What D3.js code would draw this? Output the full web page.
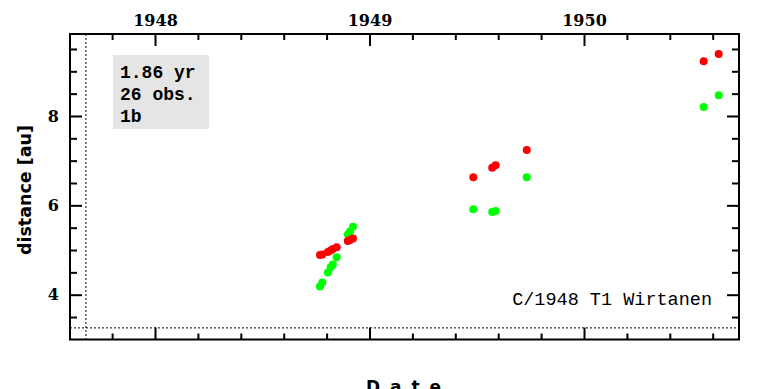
<!DOCTYPE html>
<html>
<head>
<meta charset="utf-8">
<script src="https://cdn.jsdelivr.net/npm/d3@7"></script>
<style>
  body { margin: 0; background: #fff; }
  .tick text { font-family: "DejaVu Serif", serif; font-weight: bold; font-size: 16px; fill: #000; }
  .tick line { stroke: #000; stroke-width: 2px; }
</style>
</head>
<body>
<div id="chart"></div>
<script>
// observation epochs (decimal year) and distances in au
const obsDates  = [1948.769, 1948.780, 1948.806, 1948.819, 1948.829, 1948.847, 1948.899, 1948.909, 1948.923,
                   1949.484, 1949.572, 1949.588, 1949.733, 1950.558, 1950.628];
const helioDist = [4.890, 4.900, 4.957, 4.987, 5.025, 5.063, 5.204, 5.226, 5.255,
                   6.629, 6.843, 6.897, 7.239, 9.224, 9.387];
const geoDist   = [4.181, 4.271, 4.494, 4.615, 4.673, 4.839, 5.345, 5.412, 5.523,
                   5.913, 5.852, 5.875, 6.629, 8.201, 8.463];

const yearTicks = [1948, 1949, 1950];
const yearMinor = [1947.8, 1948.2, 1948.4, 1948.6, 1948.8, 1949.2, 1949.4, 1949.6, 1949.8, 1950.2, 1950.4, 1950.6];
const distTicks = [4, 6, 8];
const distMinor = [3.5, 4.5, 5, 5.5, 6.5, 7, 7.5, 8.5, 9, 9.5];

const infoLines = ["1.86 yr", "26 obs.", "1b"];
const cometName = "C/1948 T1 Wirtanen";
const refDate = 1947.678;   // dotted vertical
const refDist = 3.257;      // dotted horizontal

const width = 764, height = 389;
const margin = { left: 70, right: 25, top: 34, bottom: 49.5 };

const svg = d3.select('#chart').append('svg')
    .attr('width', width)
    .attr('height', height);

const x = d3.scaleLinear()
    .domain([1947.6037, 1950.7226])
    .range([margin.left, width - margin.right]);

const y = d3.scaleLinear()
    .domain([2.997, 9.835])
    .range([height - margin.bottom, margin.top]);

const x0 = x.range()[0], x1 = x.range()[1];
const y0 = y.range()[0], y1 = y.range()[1];

// info box
svg.append('rect')
    .attr('x', 113).attr('y', 55)
    .attr('width', 96).attr('height', 74)
    .attr('fill', '#e5e5e5');

svg.selectAll('.info')
    .data(infoLines)
    .join('text')
    .attr('class', 'info')
    .attr('x', 120)
    .attr('y', (d, i) => 78 + i * 22)
    .style('font-family', '"Liberation Mono", monospace')
    .style('font-weight', 'bold')
    .style('font-size', '18px')
    .text(d => d);

// dotted reference lines
svg.append('line')
    .attr('x1', x(refDate)).attr('x2', x(refDate))
    .attr('y1', y1).attr('y2', y0)
    .attr('stroke', '#000').attr('stroke-width', 1)
    .attr('stroke-dasharray', '2,2');

svg.append('line')
    .attr('x1', x0).attr('x2', x1)
    .attr('y1', y(refDist)).attr('y2', y(refDist))
    .attr('stroke', '#000').attr('stroke-width', 1)
    .attr('stroke-dasharray', '2,2');

// points: geocentric (green) under heliocentric (red)
svg.selectAll('.geo')
    .data(obsDates)
    .join('circle')
    .attr('class', 'geo')
    .attr('cx', d => x(d))
    .attr('cy', (d, i) => y(geoDist[i]))
    .attr('r', 4)
    .attr('fill', '#00ff00');

svg.selectAll('.helio')
    .data(obsDates)
    .join('circle')
    .attr('class', 'helio')
    .attr('cx', d => x(d))
    .attr('cy', (d, i) => y(helioDist[i]))
    .attr('r', 4)
    .attr('fill', '#ff0000');

// axes
function addAxis(axis, tx, ty) {
    const g = svg.append('g')
        .attr('transform', `translate(${tx},${ty})`)
        .call(axis);
    g.select('.domain').remove();
    return g;
}

addAxis(d3.axisTop(x).tickValues(yearTicks).tickSize(-12).tickPadding(8).tickFormat(d3.format('d')), 0, y1);
addAxis(d3.axisTop(x).tickValues(yearMinor).tickSize(-6).tickFormat(''), 0, y1);
addAxis(d3.axisBottom(x).tickValues(yearTicks).tickSize(-12).tickFormat(''), 0, y0);
addAxis(d3.axisBottom(x).tickValues(yearMinor).tickSize(-6).tickFormat(''), 0, y0);

addAxis(d3.axisLeft(y).tickValues(distTicks).tickSize(-12).tickPadding(11).tickFormat(d3.format('d')), x0, 0);
addAxis(d3.axisLeft(y).tickValues(distMinor).tickSize(-7).tickFormat(''), x0, 0);
addAxis(d3.axisRight(y).tickValues(distTicks).tickSize(-12).tickFormat(''), x1, 0);
addAxis(d3.axisRight(y).tickValues(distMinor).tickSize(-7).tickFormat(''), x1, 0);

// frame
svg.append('rect')
    .attr('x', x0).attr('y', y1)
    .attr('width', x1 - x0).attr('height', y0 - y1)
    .attr('fill', 'none')
    .attr('stroke', '#000')
    .attr('stroke-width', 2);

// labels
svg.append('text')
    .attr('x', x1 - 27)
    .attr('y', 305)
    .attr('text-anchor', 'end')
    .style('font-family', '"Liberation Mono", monospace')
    .style('font-size', '18.5px')
    .text(cometName);

svg.append('text')
    .attr('transform', `translate(31,190) rotate(-90)`)
    .attr('text-anchor', 'middle')
    .style('font-family', '"DejaVu Sans", sans-serif')
    .style('font-weight', 'bold')
    .style('font-size', '17.5px')
    .text('distance [au]');

svg.append('text')
    .attr('x', (x0 + x1) / 2)
    .attr('y', 393)
    .attr('text-anchor', 'middle')
    .style('font-family', '"DejaVu Sans", sans-serif')
    .style('font-weight', 'bold')
    .style('font-size', '17px')
    .style('letter-spacing', '2px')
    .text('D a t e');
</script>
</body>
</html>
